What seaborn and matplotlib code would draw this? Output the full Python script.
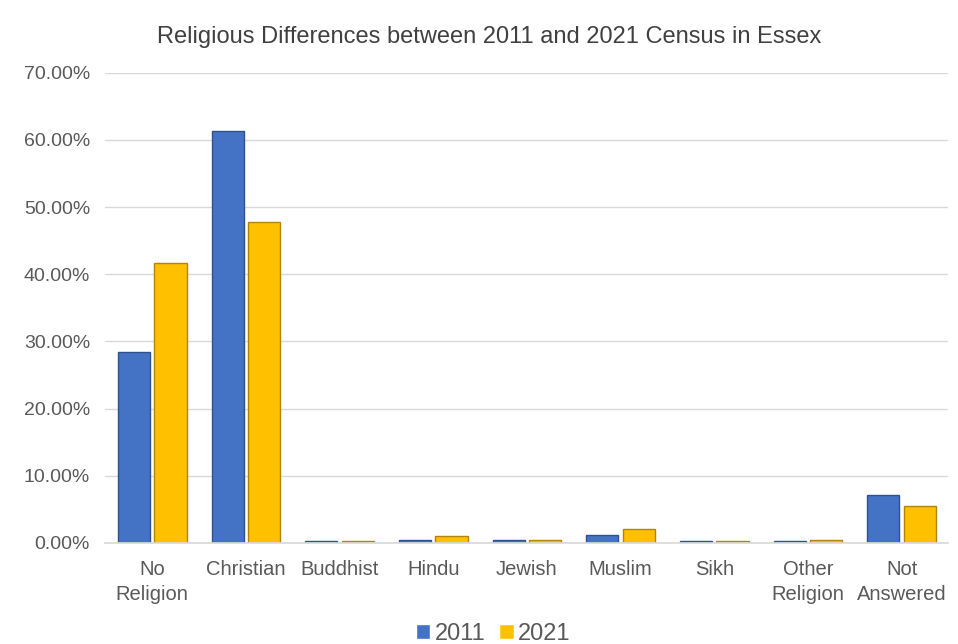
import pandas as pd
import seaborn as sns
import matplotlib.pyplot as plt
from matplotlib.ticker import PercentFormatter

categories = ['No\nReligion', 'Christian', 'Buddhist', 'Hindu', 'Jewish',
              'Muslim', 'Sikh', 'Other\nReligion', 'Not\nAnswered']
pct_2011 = [28.4, 61.3, 0.3, 0.5, 0.5, 1.2, 0.3, 0.3, 7.1]
pct_2021 = [41.7, 47.8, 0.3, 1.0, 0.45, 2.0, 0.3, 0.5, 5.5]
years = ['2011', '2021']

df = pd.DataFrame({'religion': categories * 2,
                   'year': [years[0]] * len(categories) + [years[1]] * len(categories),
                   'pct': pct_2011 + pct_2021})

sns.set_theme(style='white')
plt.rcParams['font.family'] = ['Liberation Sans', 'DejaVu Sans']

fig = plt.figure(figsize=(9.58, 6.44), dpi=100)
ax = fig.add_axes([0.11, 0.157, 0.88, 0.73])
sns.barplot(data=df, x='religion', y='pct', hue='year',
            palette={'2011': '#4472C4', '2021': '#FFC000'}, saturation=1,
            width=0.78, gap=0.12, ax=ax, legend=True)
for bars, ec in zip(ax.containers, ['#2F528F', '#B08500']):
    for b in bars:
        b.set_edgecolor(ec)
        b.set_linewidth(1.0)

ax.set_ylim(0, 70)
ax.set_yticks(range(0, 71, 10))
ax.yaxis.set_major_formatter(PercentFormatter(decimals=2))
ax.grid(axis='y', color='#d9d9d9', linewidth=1)
ax.set_axisbelow(True)
for s in ['top', 'right', 'left']:
    ax.spines[s].set_visible(False)
ax.spines['bottom'].set_color('#d9d9d9')
ax.tick_params(axis='x', colors='#595959', labelsize=14.5, length=0, pad=12)
ax.tick_params(axis='y', colors='#595959', labelsize=14, length=0, pad=11)
for lbl in ax.get_xticklabels():
    lbl.set_linespacing(1.45)
ax.set_xlabel('')
ax.set_ylabel('')
fig.text(0.511, 0.943, 'Religious Differences between 2011 and 2021 Census in Essex',
         fontsize=17, color='#404040', ha='center', va='center')

ax.legend(loc='upper center', bbox_to_anchor=(0.46, -0.125), ncol=2, frameon=False,
          fontsize=17, handlelength=0.6, handleheight=0.6, handletextpad=0.2,
          columnspacing=0.6, labelcolor='#595959')

fig.savefig('out.png', dpi=100)
